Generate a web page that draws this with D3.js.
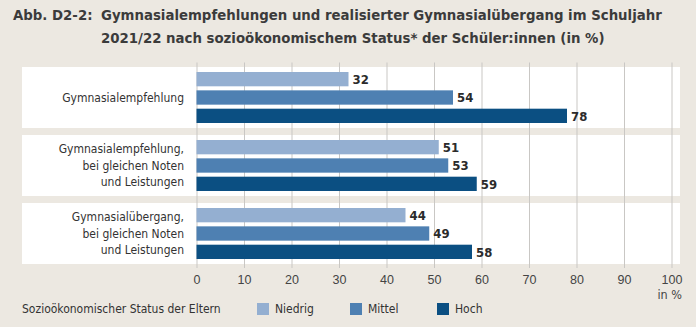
<!DOCTYPE html>
<html>
<head>
<meta charset="utf-8">
<script src="https://cdn.jsdelivr.net/npm/d3@7"></script>
<style>
  body { margin: 0; background: #ece8e1; }
  svg { display: block; font-family: "DejaVu Sans Condensed", "DejaVu Sans", sans-serif; }
</style>
</head>
<body>
<div id="chart"></div>
<script>
// data
const categories = [
  ["Gymnasialempfehlung"],
  ["Gymnasialempfehlung,", "bei gleichen Noten", "und Leistungen"],
  ["Gymnasialübergang,", "bei gleichen Noten", "und Leistungen"]
];
const seriesNames = ["Niedrig", "Mittel", "Hoch"];
const niedrig = [32, 51, 44];
const mittel = [54, 53, 49];
const hoch = [78, 59, 58];
const xTicks = [0, 10, 20, 30, 40, 50, 60, 70, 80, 90, 100];
const colors = ["#94afd1", "#4e80b2", "#0b4f82"];

const width = 696, height = 327;

const svg = d3.select("#chart").append("svg")
    .attr("width", width)
    .attr("height", height);

svg.append("rect").attr("width", width).attr("height", height).attr("fill", "#ece8e1");

// title
const title = svg.append("g").attr("fill", "#3b3b3b")
    .attr("font-weight", "bold").attr("font-size", 14.8);
title.append("text").attr("x", 13).attr("y", 20).text("Abb. D2-2:");
title.append("text").attr("x", 101).attr("y", 20)
    .text("Gymnasialempfehlungen und realisierter Gymnasialübergang im Schuljahr");
title.append("text").attr("x", 101).attr("y", 43)
    .text("2021/22 nach sozioökonomischem Status* der Schüler:innen (in %)");

const x = d3.scaleLinear().domain([0, 100]).range([196.5, 671.5]);

const y = d3.scaleBand()
    .domain(d3.range(categories.length))
    .range([67, 264])
    .paddingInner(0.103);

const yInner = d3.scaleBand()
    .domain(seriesNames)
    .range([5, 56])
    .paddingInner(0.22);

// panels
svg.selectAll("rect.panel")
  .data(categories)
  .join("rect")
    .attr("class", "panel")
    .attr("x", 22)
    .attr("width", 680 - 22)
    .attr("y", (d, i) => y(i))
    .attr("height", y.bandwidth())
    .attr("fill", "#fff");

// grid lines
svg.append("g")
    .attr("transform", "translate(0,62.5)")
    .call(d3.axisBottom(x).tickValues(xTicks).tickSize(268 - 62.5).tickFormat(""))
    .call(g => g.select(".domain").remove())
    .call(g => g.selectAll("line").attr("stroke", "#c9c7c4").attr("stroke-width", 1));

// bars
const rows = categories.map((c, i) => ({
  i, values: [niedrig[i], mittel[i], hoch[i]]
}));

const grp = svg.selectAll("g.grp")
  .data(rows)
  .join("g")
    .attr("class", "grp")
    .attr("transform", d => `translate(0,${y(d.i)})`);

grp.selectAll("rect")
  .data(d => d.values.map((v, k) => ({ v, k })))
  .join("rect")
    .attr("x", x(0))
    .attr("y", d => yInner(seriesNames[d.k]))
    .attr("width", d => x(d.v) - x(0))
    .attr("height", yInner.bandwidth())
    .attr("fill", d => colors[d.k]);

grp.selectAll("text.val")
  .data(d => d.values.map((v, k) => ({ v, k })))
  .join("text")
    .attr("class", "val")
    .attr("x", d => x(d.v) + 4)
    .attr("y", d => yInner(seriesNames[d.k]) + yInner.bandwidth() / 2)
    .attr("dy", "0.36em")
    .attr("font-size", 13)
    .attr("font-weight", "bold")
    .attr("fill", "#2b2b2b")
    .text(d => d.v);

// category labels
const lineH = 16.5;
grp.append("text")
    .attr("text-anchor", "end")
    .attr("font-size", 12)
    .attr("fill", "#333")
    .each(function(d) {
      const lines = categories[d.i];
      const mid = y.bandwidth() / 2;
      const t = d3.select(this);
      lines.forEach((l, j) => {
        t.append("tspan")
          .attr("x", 184)
          .attr("y", mid + (j - (lines.length - 1) / 2) * lineH)
          .attr("dy", "0.36em")
          .text(l);
      });
    });

// x axis labels
svg.append("g")
    .attr("transform", "translate(0,275)")
    .call(d3.axisBottom(x).tickValues(xTicks).tickSize(0).tickPadding(0))
    .call(g => g.select(".domain").remove())
    .call(g => g.selectAll("text")
        .attr("font-family", null)
        .attr("font-size", 12.5)
        .attr("fill", "#444"));
svg.append("text")
    .attr("x", 682).attr("y", 299)
    .attr("text-anchor", "end")
    .attr("font-size", 12.5)
    .attr("fill", "#444")
    .text("in %");

// legend
const legend = svg.append("g").attr("font-size", 12).attr("fill", "#333");
legend.append("text").attr("x", 22).attr("y", 313).text("Sozioökonomischer Status der Eltern");
const legX = [257, 350, 437];
const lg = legend.selectAll("g.item")
  .data(seriesNames)
  .join("g")
    .attr("class", "item")
    .attr("transform", (d, i) => `translate(${legX[i]},303)`);
lg.append("rect").attr("width", 12).attr("height", 12).attr("fill", (d, i) => colors[i]);
lg.append("text").attr("x", 18).attr("y", 10).text(d => d);
</script>
</body>
</html>
